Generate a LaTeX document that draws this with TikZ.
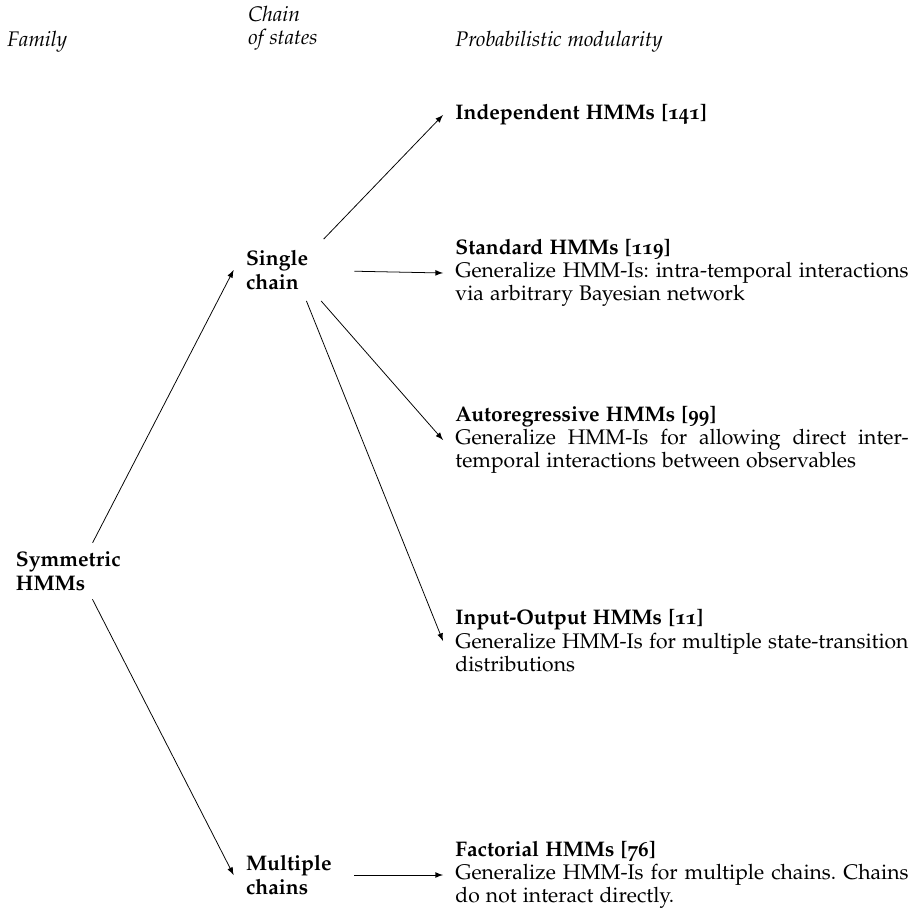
\documentclass[tikz,border=0pt]{standalone}
\usepackage[T1]{fontenc}
\usepackage[osf]{mathpazo}
\usepackage{tikz}

\begin{document}
\fontsize{11}{12.2}\selectfont\frenchspacing
\begin{tikzpicture}[x=0.5208pt, y=-0.5208pt,
  head/.style = {anchor=west, inner sep=0pt, align=left, font=\itshape},
  fam/.style = {text width=64.6pt, minimum height=29pt, inner sep=3.33pt, align=left, font=\bfseries},
  chainbox/.style = {text width=50pt, minimum height=31.8pt, inner xsep=6.25pt, inner ysep=0pt, align=left, font=\bfseries},
  model/.style = {anchor=west, text width=236pt, inner xsep=6.25pt, inner ysep=2pt, align=justify}]
  \useasboundingbox (0,0) rectangle (914,913);
  % column titles
  \node[head] (tfam) at (7,42) {Family};
  \node[head] (tchain) at (248,28) {Chain\\of states};
  \node[head] (tprob) at (455,42) {Probabilistic modularity};
  % family and chains
  \node[fam] (sym) at (78,571) {Symmetric\\HMMs};
  \node[chainbox] (single) at (294,270) {Single\\chain};
  \node[chainbox] (multi) at (294,875) {Multiple\\chains};
  % models
  \node[model] (indep) at (443,115) {\textbf{Independent HMMs [141]}};
  \node[model] (std) at (443,273) {\textbf{Standard HMMs [119]}\\
    Generalize HMM-Is: intra-temporal interactions\linebreak via arbitrary Bayesian network};
  \node[model] (autoreg) at (443,440) {\textbf{Autoregressive HMMs [99]}\\
    Generalize HMM-Is for allowing direct inter-\linebreak temporal interactions between observables};
  \node[model] (inout) at (443,641) {\textbf{Input-Output HMMs [11]}\\
    Generalize HMM-Is for multiple state-transition\linebreak distributions};
  \node[model] (fact) at (443,875) {\textbf{Factorial HMMs [76]}\\
    Generalize HMM-Is for multiple chains. Chains\linebreak do not interact directly.};
  % arrows
  \draw[-latex] (sym) -- (single.west);
  \draw[-latex] (sym) -- (multi.west);
  \draw[-latex] (single) -- (indep.west);
  \draw[-latex] (single) -- (std.west);
  \draw[-latex] (single) -- (autoreg.west);
  \draw[-latex] (single) -- (inout.west);
  \draw[-latex] (multi) -- (fact.west);
\end{tikzpicture}
\end{document}
